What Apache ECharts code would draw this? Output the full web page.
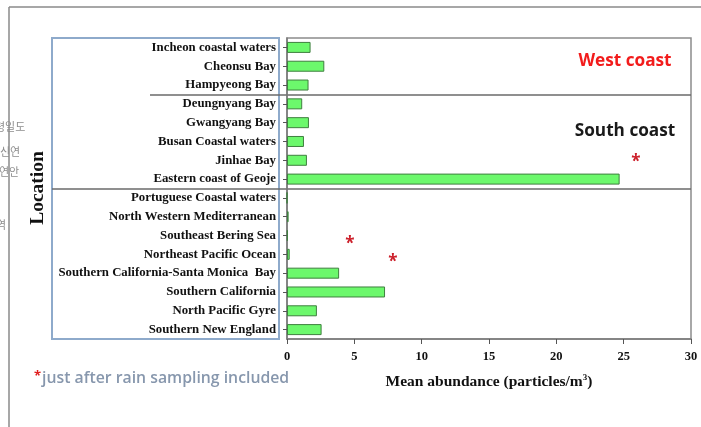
<!DOCTYPE html>
<html>
<head>
<meta charset="utf-8">
<script src="https://cdn.jsdelivr.net/npm/echarts@6.0.0/dist/echarts.min.js"></script>
<style>
  html, body { margin: 0; padding: 0; background: #ffffff; }
  #chart { width: 701px; height: 427px; }
</style>
</head>
<body>
<div id="chart"></div>
<script>
// Sampling locations, top to bottom
const locations = [
  'Incheon coastal waters',
  'Cheonsu Bay',
  'Hampyeong Bay',
  'Deungnyang Bay',
  'Gwangyang Bay',
  'Busan Coastal waters',
  'Jinhae Bay',
  'Eastern coast of Geoje',
  'Portuguese Coastal waters',
  'North Western Mediterranean',
  'Southeast Bering Sea',
  'Northeast Pacific Ocean',
  'Southern California-Santa Monica  Bay',
  'Southern California',
  'North Pacific Gyre',
  'Southern New England'
];

// Mean abundance (particles/m3)
const abundance = [
  1.75, 2.77, 1.6,
  1.13, 1.63, 1.26, 1.48, 24.7,
  0.004, 0.12, 0.05, 0.2, 3.87, 7.28, 2.22, 2.57
];

// Horizontal axis ticks
const xTicks = [0, 5, 10, 15, 20, 25, 30];

// Region captions and side notes
const regionLabels = ['West coast', 'South coast'];
const footnote = 'just after rain sampling included';
const sideNotes = ['령일도', '신연', '연안', '역'];

const chart = echarts.init(document.getElementById('chart'), null, { renderer: 'canvas' });

const serif = '"Liberation Serif", "Times New Roman", serif';
const sans = '"Open Sans", "Noto Sans", sans-serif';
const cjk = '"Noto Sans CJK KR", sans-serif';

const G = { left: 287, right: 10, top: 38, bottom: 88 };

chart.setOption({
  animation: false,
  backgroundColor: '#ffffff',
  grid: {
    left: G.left, right: G.right, top: G.top, bottom: G.bottom,
    show: true, borderColor: '#8c8c8c', borderWidth: 1.5, backgroundColor: 'transparent'
  },
  xAxis: {
    type: 'value',
    min: xTicks[0],
    max: xTicks[xTicks.length - 1],
    interval: xTicks[1] - xTicks[0],
    splitLine: { show: false },
    axisLine: { show: true, lineStyle: { color: '#7a7a7a', width: 1.5 } },
    axisTick: { show: true, length: 5, lineStyle: { color: '#555' } },
    axisLabel: { fontFamily: serif, fontWeight: 'bold', fontSize: 12.5, color: '#111', margin: 11 },
    name: '{n|Mean abundance (particles/m}{sup|3}{n|)}',
    nameLocation: 'middle',
    nameGap: 34,
    nameTextStyle: {
      fontFamily: serif, fontWeight: 'bold', fontSize: 15.5, color: '#111',
      rich: {
        n: { fontFamily: serif, fontWeight: 'bold', fontSize: 15.5, color: '#111' },
        sup: { fontFamily: serif, fontWeight: 'bold', fontSize: 9, color: '#111', verticalAlign: 'top', padding: [0, 0, 8, 0] }
      }
    }
  },
  yAxis: {
    type: 'category',
    data: locations,
    inverse: true,
    axisLine: { show: true, lineStyle: { color: '#7a7a7a', width: 1.5 } },
    axisTick: { show: true, alignWithLabel: true, length: 4, lineStyle: { color: '#555' } },
    axisLabel: { fontFamily: serif, fontWeight: 'bold', fontSize: 12.8, color: '#111', margin: 11 },
    splitLine: { show: false }
  },
  series: [{
    type: 'bar',
    data: abundance,
    barWidth: 11,
    itemStyle: { color: '#6cf86c', borderColor: '#3f7f3f', borderWidth: 1 }
  }],
  graphic: [
    // outer page frame
    { type: 'line', shape: { x1: 9, y1: 7, x2: 701, y2: 7 }, style: { stroke: '#8a8a8a', lineWidth: 1.5 } },
    { type: 'line', shape: { x1: 9, y1: 7, x2: 9, y2: 427 }, style: { stroke: '#8a8a8a', lineWidth: 1.5 } },
    // clipped side notes
    { type: 'text', left: -5, top: 121, style: { text: sideNotes[0], font: '11px ' + cjk, fill: '#8e8e8e' } },
    { type: 'text', left: 0, top: 146, style: { text: sideNotes[1], font: '11px ' + cjk, fill: '#8e8e8e' } },
    { type: 'text', left: -1, top: 166, style: { text: sideNotes[2], font: '11px ' + cjk, fill: '#8e8e8e' } },
    { type: 'text', left: -4, top: 219, style: { text: sideNotes[3], font: '11px ' + cjk, fill: '#8e8e8e' } },
    // label box
    { type: 'rect', shape: { x: 52, y: 38, width: 227, height: 301 }, style: { fill: 'none', stroke: '#8eaacb', lineWidth: 2 } },
    // region separators
    { type: 'line', shape: { x1: 150, y1: 95, x2: 691, y2: 95 }, style: { stroke: '#6a6a6a', lineWidth: 1.5 } },
    { type: 'line', shape: { x1: 52, y1: 189, x2: 691, y2: 189 }, style: { stroke: '#6a6a6a', lineWidth: 1.5 } },
    // vertical axis title
    { type: 'text', x: 38, y: 188, rotation: Math.PI / 2,
      style: { text: 'Location', font: 'bold 19.5px ' + serif, fill: '#111', align: 'center', verticalAlign: 'middle' } },
    // region captions
    { type: 'text', x: 625, y: 61,
      style: { text: regionLabels[0], font: 'bold 17.2px ' + sans, fill: '#f21c1c', align: 'center', verticalAlign: 'middle' } },
    { type: 'text', x: 625, y: 131,
      style: { text: regionLabels[1], font: 'bold 17.2px ' + sans, fill: '#1a1a1a', align: 'center', verticalAlign: 'middle' } },
    // rain sampling markers
    { type: 'text', x: 636, y: 162, style: { text: '*', font: 'bold 17px ' + sans, fill: '#cc1f2a', align: 'center', verticalAlign: 'middle' } },
    { type: 'text', x: 350, y: 244, style: { text: '*', font: 'bold 17px ' + sans, fill: '#cc1f2a', align: 'center', verticalAlign: 'middle' } },
    { type: 'text', x: 393, y: 262, style: { text: '*', font: 'bold 17px ' + sans, fill: '#cc1f2a', align: 'center', verticalAlign: 'middle' } },
    // footnote
    { type: 'text', x: 34, y: 378,
      style: {
        text: '{s|*}{t|' + footnote + '}',
        verticalAlign: 'middle',
        rich: {
          s: { font: 'bold 13px ' + sans, fill: '#e02020', padding: [0, 1, 4, 0] },
          t: { font: '600 15.8px ' + sans, fill: '#8797ad' }
        }
      } }
  ]
});
</script>
</body>
</html>
